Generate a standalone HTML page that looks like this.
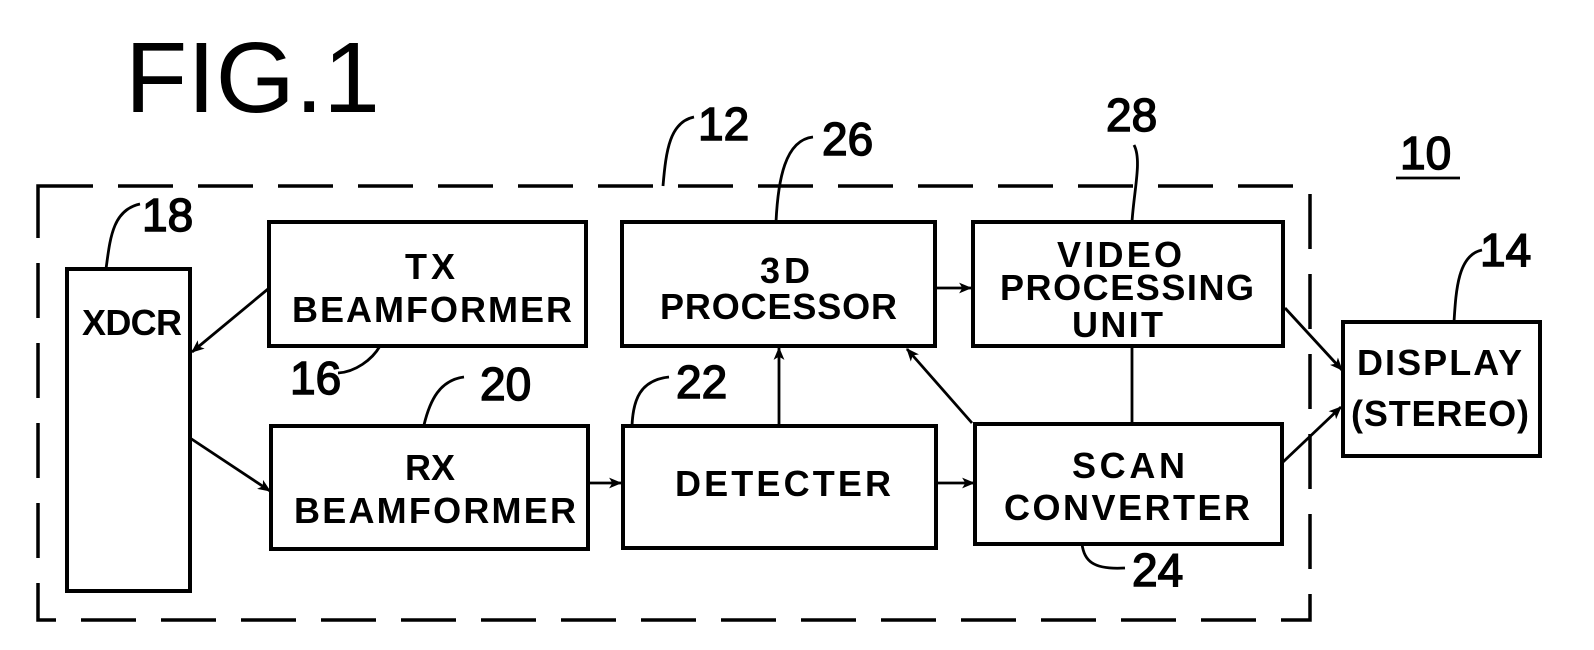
<!DOCTYPE html>
<html><head><meta charset="utf-8"><style>html,body{margin:0;padding:0;background:#fff}svg{display:block}</style></head>
<body>
<svg width="1594" height="650" viewBox="0 0 1594 650" xmlns="http://www.w3.org/2000/svg">
<defs>
<marker id="a" viewBox="0 0 12 10" refX="11" refY="5" markerWidth="13" markerHeight="11" markerUnits="userSpaceOnUse" orient="auto">
<path d="M0,0 L12,5 L0,10 L3,5 Z" fill="#000"/>
</marker>
</defs>
<g font-family="Liberation Sans, sans-serif" fill="#000">
<text x="125" y="112" font-size="100" textLength="255" lengthAdjust="spacingAndGlyphs">FIG.1</text>
</g>
<g fill="none" stroke="#000" stroke-width="4">
<rect x="38" y="186" width="1272" height="434" stroke-width="3.5" stroke-dasharray="55,25"/>
<rect x="67" y="269" width="123" height="322"/>
<rect x="269" y="222" width="317" height="124"/>
<rect x="271" y="426" width="317" height="123"/>
<rect x="622" y="222" width="313" height="124"/>
<rect x="623" y="426" width="313" height="122"/>
<rect x="973" y="222" width="310" height="124"/>
<rect x="975" y="424" width="307" height="120"/>
<rect x="1343" y="322" width="197" height="134"/>
</g>
<g fill="none" stroke="#000" stroke-width="2.8" marker-end="url(#a)">
<line x1="268" y1="289" x2="192" y2="352"/>
<line x1="190" y1="438" x2="270" y2="491"/>
<line x1="588" y1="483" x2="621" y2="483"/>
<line x1="937" y1="483" x2="974" y2="483"/>
<line x1="779" y1="425" x2="779" y2="348"/>
<line x1="972" y1="423" x2="907" y2="349"/>
<line x1="935" y1="288" x2="971" y2="288"/>
<line x1="1285" y1="308" x2="1342" y2="370"/>
<line x1="1283" y1="462" x2="1341" y2="407"/>
</g>
<g fill="none" stroke="#000" stroke-width="2.8">
<line x1="1132" y1="346" x2="1132" y2="424"/>
<path d="M663,186 C666,150 670,122 694,117"/>
<path d="M776,222 C778,180 785,140 813,137"/>
<path d="M1132,222 C1134,190 1142,160 1134,145"/>
<path d="M1454,322 C1456,290 1458,255 1482,250"/>
<path d="M632,426 C633,400 640,380 669,377"/>
<path d="M1082,544 C1084,560 1092,570 1125,568"/>
<path d="M380,346 C372,360 355,372 338,373"/>
<path d="M424,425 C430,400 440,380 464,377"/>
<path d="M106,269 C110,240 112,210 140,204"/>
<line x1="1396" y1="178" x2="1460" y2="178"/>
</g>
<g font-family="Liberation Sans, sans-serif" font-weight="bold" fill="#000" font-size="36" lengthAdjust="spacingAndGlyphs">
<text x="82" y="335" font-size="36" textLength="100">XDCR</text>
<text x="405" y="279" textLength="50">TX</text>
<text x="292" y="322" textLength="280">BEAMFORMER</text>
<text x="405" y="480" textLength="50">RX</text>
<text x="294" y="523" textLength="282">BEAMFORMER</text>
<text x="760" y="283" textLength="50">3D</text>
<text x="660" y="319" textLength="237">PROCESSOR</text>
<text x="1057" y="267" textLength="125">VIDEO</text>
<text x="1000" y="300" textLength="254">PROCESSING</text>
<text x="1072" y="337" textLength="91">UNIT</text>
<text x="675" y="496" textLength="216">DETECTER</text>
<text x="1072" y="478" textLength="113">SCAN</text>
<text x="1004" y="520" textLength="246">CONVERTER</text>
<text x="1357" y="375" textLength="165">DISPLAY</text>
<text x="1351" y="426" textLength="178">(STEREO)</text>
</g>
<g font-family="Liberation Sans, sans-serif" fill="#000" stroke="#000" stroke-width="1.5" font-size="46">
<text x="698" y="140">12</text>
<text x="822" y="155">26</text>
<text x="1106" y="131">28</text>
<text x="1400" y="169">10</text>
<text x="1480" y="266">14</text>
<text x="676" y="398">22</text>
<text x="1132" y="586">24</text>
<text x="290" y="394">16</text>
<text x="480" y="400">20</text>
<text x="142" y="231">18</text>
</g>
</svg>
</body></html>
